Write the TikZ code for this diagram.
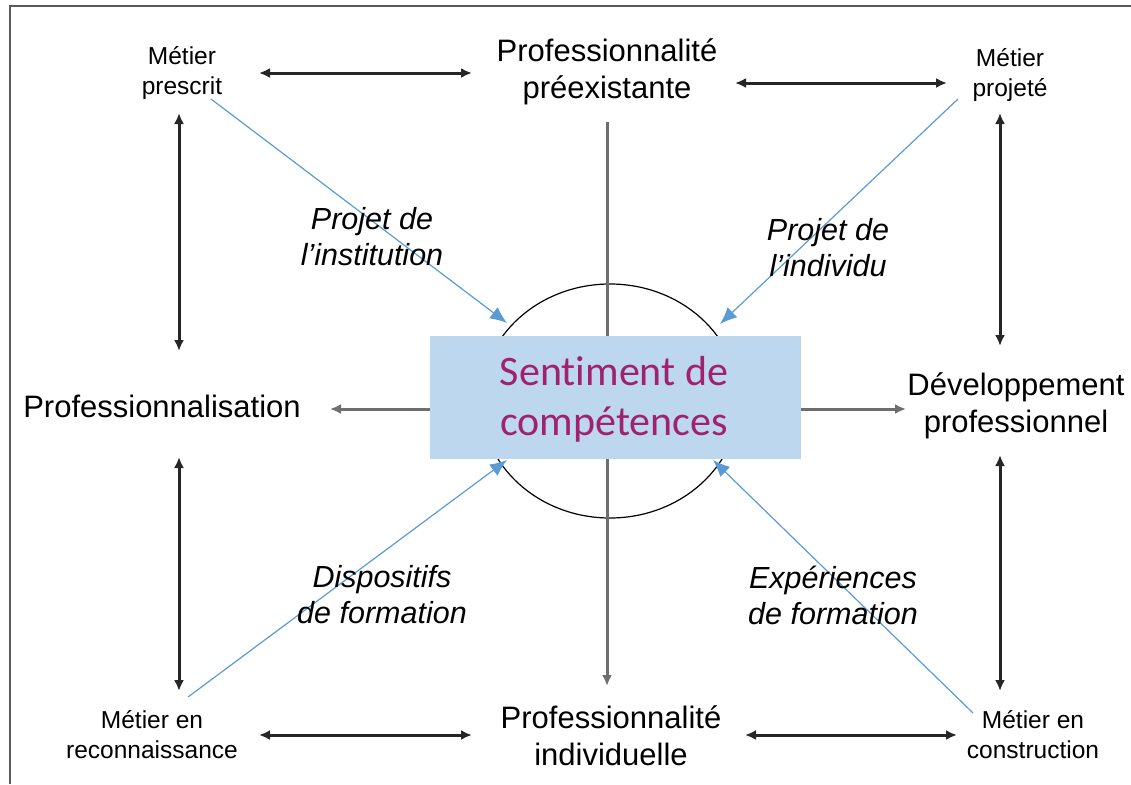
\documentclass[tikz,border=0pt]{standalone}
\usepackage{fontspec}
\setmainfont{Liberation Sans}
\newfontfamily\calib[Ligatures=NoCommon]{Carlito}
\usetikzlibrary{arrows.meta}
\definecolor{boxblue}{RGB}{189,215,238}
\definecolor{arrblue}{RGB}{91,155,213}
\definecolor{purp}{RGB}{160,33,110}
\definecolor{axisgray}{RGB}{110,110,110}
\definecolor{framegray}{RGB}{90,90,90}
\tikzset{
  big/.style={font=\fontsize{31}{37}\selectfont, align=center, inner sep=0pt},
  small/.style={font=\fontsize{24.5}{30}\selectfont, align=center, inner sep=0pt},
  ital/.style={font=\fontsize{30.5}{36}\selectfont\itshape, align=center, inner sep=0pt},
  dbl/.style={line width=3pt, draw=black!85, {Latex[length=11pt,width=10pt]}-{Latex[length=11pt,width=10pt]}},
  axis/.style={line width=3pt, draw=axisgray},
  axtip/.style={-{Latex[length=11pt,width=10pt]}},
  blue/.style={line width=1.2pt, draw=arrblue, -{Latex[length=17pt,width=14pt]}, color=arrblue},
}
\begin{document}
\begin{tikzpicture}[x=1pt,y=-1pt]
\useasboundingbox (0,0) rectangle (1131,784);
% frame
\draw[framegray, line width=2pt] (10,784) -- (10,6) -- (1131,6);
% ellipse
\draw[black, line width=1.2pt] (610,401) ellipse [x radius=129, y radius=117];
% coordinates of connector ends
\coordinate (vt) at (607,122);
\coordinate (vb) at (607,686);
\coordinate (hl) at (330,409);
\coordinate (hr) at (906,409);
\coordinate (t1a) at (259,73); \coordinate (t1b) at (472,73);
\coordinate (t2a) at (735,83); \coordinate (t2b) at (947,83);
\coordinate (b1a) at (259,735); \coordinate (b1b) at (472,735);
\coordinate (b2a) at (745,735); \coordinate (b2b) at (957,735);
\coordinate (l1a) at (179,113); \coordinate (l1b) at (179,351);
\coordinate (l2a) at (179,457); \coordinate (l2b) at (179,691);
\coordinate (r1a) at (1000,113); \coordinate (r1b) at (1000,346);
\coordinate (r2a) at (1000,455); \coordinate (r2b) at (1000,691);
\coordinate (bl1a) at (211,99); \coordinate (bl1b) at (507,323);
\coordinate (bl2a) at (958,99); \coordinate (bl2b) at (720,324);
\coordinate (bl3a) at (188,697); \coordinate (bl3b) at (507,460);
\coordinate (bl4a) at (973,713); \coordinate (bl4b) at (713,460);
% axes
\draw[axis, axtip] (vt) -- (vb);
\draw[axis, axtip] (610,409) -- (hl);
\draw[axis, axtip] (610,409) -- (hr);
% center box
\node[fill=boxblue, minimum width=371pt, minimum height=123pt, inner sep=0pt] (box) at (615.5,397.5) {};
\node[font=\calib\fontsize{42}{50}\selectfont, text=purp, align=center, inner sep=0pt] (sent) at (614,399) {Sentiment de\\compétences};
% double arrows
\draw[dbl] (t1a) -- (t1b);
\draw[dbl] (t2a) -- (t2b);
\draw[dbl] (b1a) -- (b1b);
\draw[dbl] (b2a) -- (b2b);
\draw[dbl] (l1a) -- (l1b);
\draw[dbl] (l2a) -- (l2b);
\draw[dbl] (r1a) -- (r1b);
\draw[dbl] (r2a) -- (r2b);
% blue arrows
\draw[blue] (bl1a) -- (bl1b);
\draw[blue] (bl2a) -- (bl2b);
\draw[blue] (bl3a) -- (bl3b);
\draw[blue] (bl4a) -- (bl4b);
% labels
\node[small] (mpres) at (182,73) {Métier\\prescrit};
\node[big] (ppre) at (607,72) {Professionnalité\\préexistante};
\node[small] (mproj) at (1010,75) {Métier\\projeté};
\node[big] (pro) at (162,406) {Professionnalisation};
\node[big] (dev) at (1016,406) {Développement\\professionnel};
\node[small] (mrec) at (152,735) {Métier en\\reconnaissance};
\node[big] (pind) at (611,736) {Professionnalité\\individuelle};
\node[small] (mcons) at (1033,735) {Métier en\\construction};
\node[ital] (pinst) at (372,237) {Projet de\\l’institution};
\node[ital] (pindiv) at (828,248) {Projet de\\l’individu};
\node[ital] (disp) at (382,595) {Dispositifs\\de formation};
\node[ital] (exp) at (833,595) {Expériences\\de formation};
\end{tikzpicture}
\end{document}
